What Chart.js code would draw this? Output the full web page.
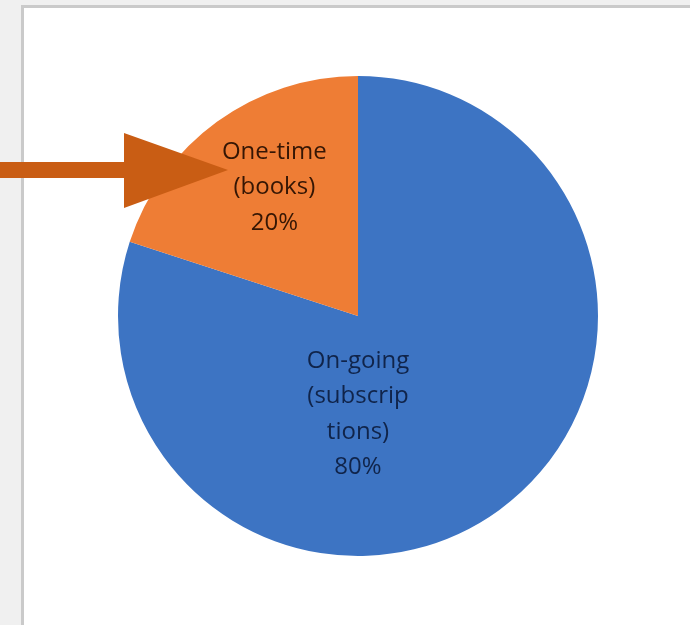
<!DOCTYPE html>
<html>
<head>
<meta charset="utf-8">
<script src="https://cdn.jsdelivr.net/npm/chart.js@4"></script>
<style>
  html, body { margin: 0; padding: 0; background: #f0f0f0; }
  #wrap { width: 690px; height: 625px; position: relative; }
</style>
</head>
<body>
<div id="wrap"><canvas id="pieChart" width="690" height="625"></canvas></div>
<script>
// chart data
var categories = ['On-going (subscriptions)', 'One-time (books)'];
var shares = [80, 20];
var labelLines = [
  ['On-going', '(subscrip', 'tions)', '80%'],
  ['One-time', '(books)', '20%']
];
var sliceColors = ['#3d74c3', '#ee7d35'];
var textColors = ['#10244a', '#351604'];
// where each label sits: angle (deg) and fraction of radius from the centre
var labelAngle = [90, -123];
var labelDist = [0.41, 0.64];

// grey page + white panel behind the chart
var panelPlugin = {
  id: 'panel',
  beforeDraw: function(chart) {
    var ctx = chart.ctx;
    ctx.save();
    ctx.fillStyle = '#f0f0f0';
    ctx.fillRect(0, 0, chart.width, chart.height);
    ctx.fillStyle = '#cacaca';
    ctx.fillRect(21, 5, chart.width - 21, chart.height);
    ctx.fillStyle = '#ffffff';
    ctx.fillRect(24, 8, chart.width - 24, chart.height);
    ctx.restore();
  }
};

// labels inside the slices
var sliceLabels = {
  id: 'sliceLabels',
  afterDatasetsDraw: function(chart) {
    var ctx = chart.ctx;
    var arcs = chart.getDatasetMeta(0).data;
    ctx.save();
    ctx.font = '500 24px "Open Sans", sans-serif';
    ctx.textAlign = 'center';
    ctx.textBaseline = 'middle';
    arcs.forEach(function(arc, i) {
      var a = labelAngle[i] * Math.PI / 180;
      var r = arc.outerRadius * labelDist[i];
      var cx = arc.x + Math.cos(a) * r;
      var cy = arc.y + Math.sin(a) * r;
      var lines = labelLines[i];
      var lh = 35.5;
      ctx.fillStyle = textColors[i];
      lines.forEach(function(t, k) {
        ctx.fillText(t, cx, cy + (k - (lines.length - 1) / 2) * lh);
      });
    });
    ctx.restore();
  }
};

// the callout arrow pointing at the one-time slice
var arrowPlugin = {
  id: 'arrow',
  afterDraw: function(chart) {
    var ctx = chart.ctx;
    ctx.save();
    ctx.fillStyle = '#c95d14';
    ctx.beginPath();
    ctx.moveTo(0, 162);
    ctx.lineTo(124, 162);
    ctx.lineTo(124, 133);
    ctx.lineTo(228, 170);
    ctx.lineTo(124, 208);
    ctx.lineTo(124, 178);
    ctx.lineTo(0, 178);
    ctx.closePath();
    ctx.fill();
    ctx.restore();
  }
};

var ctx = document.getElementById('pieChart').getContext('2d');
var myPieChart = new Chart(ctx, {
  type: 'pie',
  data: {
    labels: categories,
    datasets: [{
      data: shares,
      backgroundColor: sliceColors,
      borderWidth: 0
    }]
  },
  options: {
    responsive: false,
    animation: false,
    layout: {
      padding: { left: 118, right: 92, top: 76, bottom: 69 }
    },
    plugins: {
      legend: { display: false },
      tooltip: { enabled: false }
    }
  },
  plugins: [panelPlugin, sliceLabels, arrowPlugin]
});
</script>
</body>
</html>
